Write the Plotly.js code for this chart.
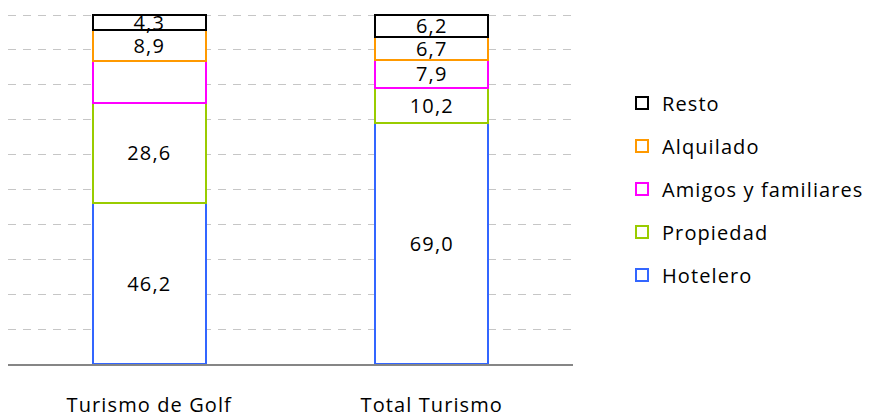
<!DOCTYPE html>
<html>
<head>
<meta charset="utf-8">
<script src="https://cdn.plot.ly/plotly-3.0.1.min.js"></script>
<style>
  html, body { margin: 0; padding: 0; background: #fff; }
  #chart { width: 875px; height: 417px; }
  text { letter-spacing: 1.1px; }
</style>
</head>
<body>
<div id="chart"></div>
<script>
const categories = ["Turismo de Golf", "Total Turismo"];
const seriesNames = ["Hotelero", "Propiedad", "Amigos y familiares", "Alquilado", "Resto"];
const hotelero = [46.2, 69.0];
const propiedad = [28.6, 10.2];
const amigos = [12.0, 7.9];
const alquilado = [8.9, 6.7];
const resto = [4.3, 6.2];
const showLabel = {
  "Hotelero": [true, true],
  "Propiedad": [true, true],
  "Amigos y familiares": [false, true],
  "Alquilado": [true, true],
  "Resto": [true, true]
};
const seriesValues = [hotelero, propiedad, amigos, alquilado, resto];
const colors = ["#3366FF", "#99CC00", "#FF00FF", "#FF9900", "#000000"];

const fmt = v => v.toFixed(1).replace('.', ',');
const FONT = 'Open Sans, sans-serif';

const traces = seriesNames.map((name, i) => ({
  type: 'bar',
  name: name,
  x: categories,
  y: seriesValues[i],
  text: seriesValues[i].map((v, j) => showLabel[name][j] ? fmt(v) : ''),
  textposition: 'inside',
  insidetextanchor: 'middle',
  constraintext: 'none',
  textangle: 0,
  textfont: { family: FONT, size: 20, color: '#000' },
  marker: { color: '#ffffff', line: { color: colors[i], width: 2 } },
  legendgroup: name,
  legendrank: seriesNames.length - i,
  hoverinfo: 'none'
}));

const layout = {
  width: 875, height: 417,
  margin: { l: 8, r: 302, t: 14, b: 53, autoexpand: false },
  barmode: 'stack',
  bargap: 0.6,
  paper_bgcolor: '#fff',
  plot_bgcolor: '#fff',
  font: { family: FONT, size: 20, color: '#000' },
  showlegend: true,
  legend: {
    x: 1.0867, xref: 'paper', xanchor: 'left',
    y: 0.5, yanchor: 'middle',
    traceorder: 'grouped',
    tracegroupgap: 14,
    font: { family: FONT, size: 20, color: '#000' },
    itemclick: false, itemdoubleclick: false
  },
  xaxis: {
    type: 'category',
    showgrid: false,
    showline: true, linecolor: '#868686', linewidth: 1.5,
    ticks: 'outside', ticklen: 22, tickcolor: 'rgba(0,0,0,0)',
    tickfont: { family: FONT, size: 20, color: '#000' },
    zeroline: false
  },
  yaxis: {
    range: [0, 100.3],
    tick0: 0,
    dtick: 10,
    showgrid: true, gridcolor: '#C6C6C6', gridwidth: 1, griddash: '8px,7px',
    showticklabels: false,
    zeroline: false,
    showline: false,
    ticks: ''
  }
};

Plotly.newPlot('chart', traces, layout, { displayModeBar: false, staticPlot: true });
</script>
</body>
</html>
